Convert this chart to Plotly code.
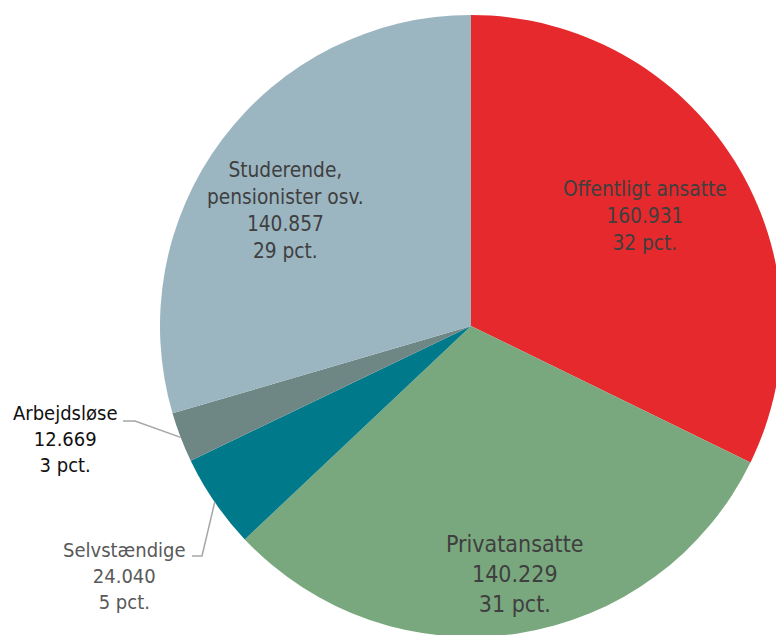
import math
import plotly.graph_objects as go

# ---- data ----
labels = ["Offentligt ansatte", "Privatansatte", "Selvstændige", "Arbejdsløse",
          "Studerende, pensionister osv."]
counts = [160931, 140229, 24040, 12669, 140857]
shares = [32.2, 30.7, 4.9, 2.6, 29.5]          # slice sizes (pct.)
pct_labels = [32, 31, 5, 3, 29]                # printed pct.
colors = ["#E5292C", "#7AA87E", "#007A8B", "#6E8785", "#9BB5C1"]

# ---- geometry of the page ----
W, H = 942, 640
MT, MB = 15, 3
PH = H - MT - MB
CX, CY, R = W / 2, MT + PH / 2, min(W, PH) / 2


def px(x):
    return x / W


def py(y):
    return 1 - (y - MT) / PH


def fmt(v):
    return f"{v:,}".replace(",", ".")


def label_text(i):
    name = labels[i].replace(", ", ",<br>")
    return f"{name}<br>{fmt(counts[i])}<br>{pct_labels[i]} pct."


fig = go.Figure(go.Pie(
    labels=labels, values=shares, sort=False, direction="clockwise", rotation=0,
    marker=dict(colors=colors, line=dict(width=0)),
    textinfo="none", hoverinfo="label+value", showlegend=False,
    domain=dict(x=[0, 1], y=[0, 1]),
))

FONT = "DejaVu Sans Condensed, DejaVu Sans, sans-serif"
# label placement (pixel centres) and style
place = {
    0: (645, 216, 20.7, "#3F3F3F"),
    1: (515, 574, 23, "#3F3F3F"),
    2: (124, 576, 20, "#595959"),
    3: (65, 439, 20, "#111111"),
    4: (285, 211, 20.7, "#3F3F3F"),
}
for i, (x, y, size, col) in place.items():
    fig.add_annotation(x=px(x), y=py(y), xref="paper", yref="paper",
                       text=label_text(i), showarrow=False,
                       xanchor="center", yanchor="middle", align="center",
                       font=dict(family=FONT, size=size, color=col))

# leader lines for the two small slices: elbow near label -> slice edge midpoint
total = sum(shares)
cum = [sum(shares[:i]) for i in range(len(shares))]


def edge(i):
    th = math.radians((cum[i] + shares[i] / 2) / total * 360)
    return CX + R * math.sin(th), CY - R * math.cos(th)


leaders = {3: [(123, 421), (135, 421)], 2: [(192, 556), (202, 556)]}
for i, pts in leaders.items():
    ex, ey = edge(i)
    allp = pts + [(ex, ey)]
    path = "M " + " L ".join(f"{px(a)},{py(b)}" for a, b in allp)
    fig.add_shape(type="path", path=path, xref="paper", yref="paper",
                  line=dict(color="#A6A6A6", width=1.5))

fig.update_layout(
    width=W, height=H,
    margin=dict(l=0, r=0, t=MT, b=MB, pad=0),
    paper_bgcolor="white", plot_bgcolor="white",
    font=dict(family=FONT),
)

fig.write_html(
    "out.html",
    config={"displayModeBar": False},
    post_script="document.body.style.margin='0';document.body.style.overflow='hidden';"
                "document.documentElement.style.overflow='hidden';",
)
